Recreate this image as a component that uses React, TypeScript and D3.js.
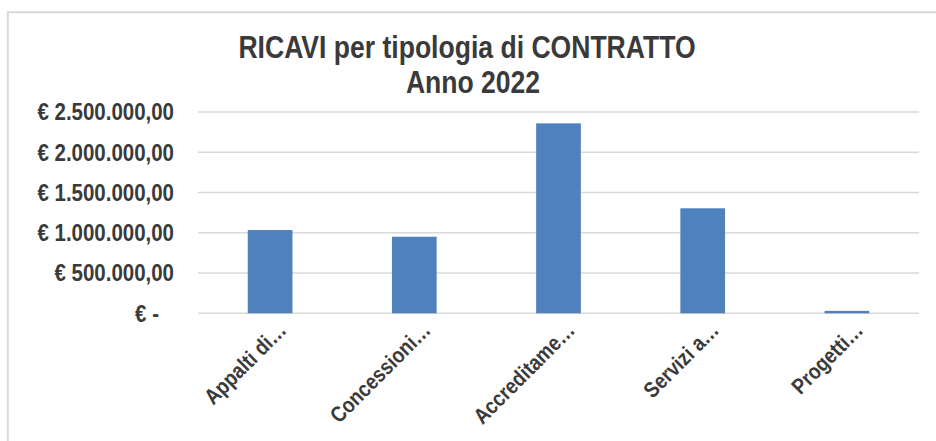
import React from "react";
import * as d3 from "d3";

const categories = ["Appalti di…", "Concessioni…", "Accreditame…", "Servizi a…", "Progetti…"];
const revenues = [1034000, 951000, 2359000, 1304000, 30000];
const tickValues = [0, 500000, 1000000, 1500000, 2000000, 2500000];
const tickLabels = ["€ -", "€ 500.000,00", "€ 1.000.000,00", "€ 1.500.000,00", "€ 2.000.000,00", "€ 2.500.000,00"];
const titleLines = ["RICAVI per tipologia di CONTRATTO", "Anno 2022"];

const W = 936;
const H = 441;
const FONT = "'Liberation Sans Narrow', 'Arial Narrow', 'Liberation Sans', Arial, sans-serif";
const TEXT = "#3a3a3a";
const GRID = "#D9D9D9";
const BAR = "#4F81BD";

export default function App() {
  const plotLeft = 198;
  const plotRight = 919;
  const plotTop = 112;
  const plotBottom = 313.3;

  const x = d3
    .scaleBand<string>()
    .domain(categories)
    .range([plotLeft, plotRight])
    .paddingInner(0.69)
    .paddingOuter(0.345);
  const y = d3.scaleLinear().domain([0, 2500000]).range([plotBottom, plotTop]);

  return (
    <svg
      width={W}
      height={H}
      style={{ position: "absolute", left: 0, top: 0, background: "#fff" }}
      fontFamily={FONT}
    >
      <rect x={0} y={0} width={W} height={H} fill="#fff" />
      <rect x={7.75} y={12.25} width={1000} height={1000} fill="none" stroke={GRID} strokeWidth={2} />

      {/* title */}
      <text
        transform={`translate(467,58) scale(0.83,1)`}
        textAnchor="middle"
        fontSize={32}
        fontWeight="bold"
        fill={TEXT}
      >
        {titleLines[0]}
      </text>
      <text
        transform={`translate(473,93) scale(0.83,1)`}
        textAnchor="middle"
        fontSize={32}
        fontWeight="bold"
        fill={TEXT}
      >
        {titleLines[1]}
      </text>

      {/* gridlines */}
      {tickValues.map((v) => (
        <line key={v} x1={plotLeft} x2={plotRight} y1={y(v)} y2={y(v)} stroke={GRID} strokeWidth={1.6} />
      ))}

      {/* y labels */}
      {tickValues.map((v, i) => (
        <text
          key={"l" + v}
          transform={`translate(${v === 0 ? 159 : 174},${y(v)}) scale(0.89,1)`}
          dy="0.36em"
          textAnchor="end"
          fontSize={23}
          fontWeight="bold"
          fill={TEXT}
        >
          {tickLabels[i]}
        </text>
      ))}

      {/* bars */}
      {categories.map((c, i) => (
        <rect
          key={c}
          x={x(c)!}
          y={y(revenues[i])}
          width={x.bandwidth()}
          height={y(0) - y(revenues[i])}
          fill={BAR}
        />
      ))}

      {/* category labels */}
      {categories.map((c) => {
        const cx = x(c)! + x.bandwidth() / 2;
        return (
          <text
            key={"c" + c}
            transform={`translate(${cx + 6},${320}) rotate(-45) scale(0.86,1)`}
            textAnchor="end"
            dominantBaseline="hanging"
            fontSize={22}
            fontWeight="bold"
            fill={TEXT}
          >
            {c}
          </text>
        );
      })}
    </svg>
  );
}
